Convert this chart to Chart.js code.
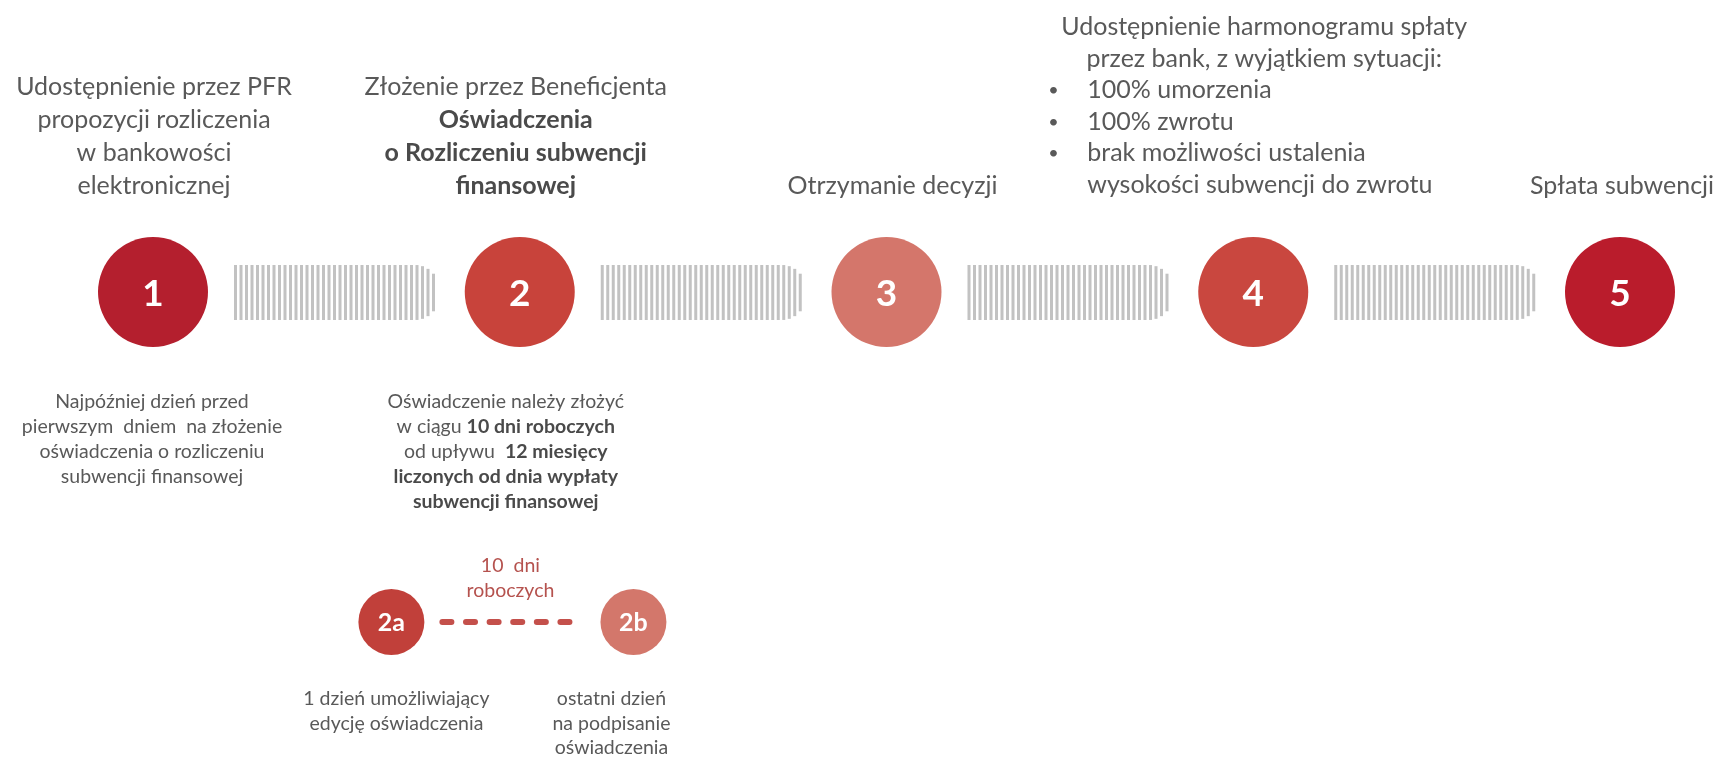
<!DOCTYPE html>
<html lang="pl">
<head>
<meta charset="utf-8">
<title>Rozliczenie subwencji finansowej</title>
<script src="https://cdn.jsdelivr.net/npm/chart.js@4.4.1/dist/chart.umd.min.js"></script>
<style>
  html, body { margin: 0; padding: 0; background: #fff; }
  #wrap { width: 1719px; height: 757px; }
</style>
</head>
<body>
<div id="wrap"><canvas id="flow" width="1719" height="757"></canvas></div>
<script>
// main steps of the process (x = step number on the timeline)
var stepNumbers = [1, 2, 3, 4, 5];
var stepLabels = ['1', '2', '3', '4', '5'];
var stepColors = ['#B41F2E', '#C8433B', '#D4766B', '#C9473F', '#BA1C2C'];

// sub-steps of step 2, placed between step 1 and step 3
var subSteps = [1.65, 2.31];
var subLabels = ['2a', '2b'];
var subColors = ['#C1403A', '#D3776B'];
var subLinkText = ['10  dni', 'roboczych'];

// texts above every step (** marks bold, "• " a bullet, two spaces a continued bullet)
var topTexts = [
  ['Udostępnienie przez PFR', 'propozycji rozliczenia', 'w bankowości', 'elektronicznej'],
  ['Złożenie przez Beneficjenta', '**Oświadczenia**', '**o Rozliczeniu subwencji**', '**finansowej**'],
  ['Otrzymanie decyzji'],
  ['Udostępnienie harmonogramu spłaty', 'przez bank, z wyjątkiem sytuacji:', '• 100% umorzenia', '• 100% zwrotu',
   '• brak możliwości ustalenia', '  wysokości subwencji do zwrotu'],
  ['Spłata subwencji']
];

// texts below the steps
var bottomTexts = [
  ['Najpóźniej dzień przed', 'pierwszym  dniem  na złożenie', 'oświadczenia o rozliczeniu', 'subwencji finansowej'],
  ['Oświadczenie należy złożyć', 'w ciągu **10 dni roboczych**', 'od upływu  **12 miesięcy**',
   '**liczonych od dnia wypłaty**', '**subwencji finansowej**'],
  [], [], []
];

// texts below the sub-steps
var subTexts = [
  ['1 dzień umożliwiający', 'edycję oświadczenia'],
  ['ostatni dzień', 'na podpisanie', 'oświadczenia']
];

var FONT = 'Lato, "Open Sans", sans-serif';

function segments(line) {
  return line.split('**').map(function(p, i) {
    return { t: p, b: i % 2 === 1 };
  }).filter(function(s) { return s.t.length > 0; });
}

function drawRich(ctx, line, x, y, align, size, color, boldColor) {
  var segs = segments(line);
  var total = 0;
  segs.forEach(function(s) {
    ctx.font = (s.b ? '700 ' : '400 ') + size + 'px ' + FONT;
    s.w = ctx.measureText(s.t).width;
    total += s.w;
  });
  var cx = align === 'center' ? x - total / 2 : x;
  segs.forEach(function(s) {
    ctx.font = (s.b ? '700 ' : '400 ') + size + 'px ' + FONT;
    ctx.fillStyle = s.b ? boldColor : color;
    ctx.textAlign = 'left';
    ctx.fillText(s.t, cx, y);
    cx += s.w;
  });
}

var flowDecor = {
  id: 'flowDecor',
  beforeDatasetsDraw: function(chart, args, opts) {
    var ctx = chart.ctx;
    var xs = chart.scales.x, ys = chart.scales.y;
    var rowY = ys.getPixelForValue(0);
    ctx.save();

    // striped arrows between the steps
    ctx.fillStyle = opts.arrowColor;
    for (var i = 0; i < stepNumbers.length - 1; i++) {
      var x0 = xs.getPixelForValue(stepNumbers[i]) + 81;
      var x1 = xs.getPixelForValue(stepNumbers[i + 1]) - 81;
      var half = 27.5, tip = 25;
      for (var x = x0; x < x1 - 2; x += 5.5) {
        var h = half;
        if (x > x1 - tip) {
          var t = (x - (x1 - tip)) / tip;
          h = Math.max(4, half * Math.sqrt(1 - t * t));
        }
        ctx.fillRect(x, rowY + 0.5 - h, 3, 2 * h);
      }
    }

    // dashed link between 2a and 2b
    var subY = ys.getPixelForValue(1);
    var a = xs.getPixelForValue(subSteps[0]) + 48;
    var b = xs.getPixelForValue(subSteps[1]) - 61;
    var n = 6, gap = 8.6;
    var dash = (b - a - (n - 1) * gap) / n;
    ctx.fillStyle = opts.dashColor;
    for (var k = 0; k < n; k++) {
      ctx.beginPath();
      ctx.roundRect(a + k * (dash + gap), subY - 3, dash, 6, 3);
      ctx.fill();
    }
    ctx.restore();
  },
  afterDatasetsDraw: function(chart, args, opts) {
    var ctx = chart.ctx;
    var xs = chart.scales.x, ys = chart.scales.y;
    var rowY = ys.getPixelForValue(0);
    var subY = ys.getPixelForValue(1);
    ctx.save();
    ctx.textBaseline = 'middle';

    // numbers inside the circles
    ctx.fillStyle = '#ffffff';
    ctx.textAlign = 'center';
    ctx.font = '700 37px ' + FONT;
    stepNumbers.forEach(function(s, i) {
      ctx.fillText(stepLabels[i], xs.getPixelForValue(s), rowY + 2);
    });
    ctx.font = '700 25px ' + FONT;
    subSteps.forEach(function(s, i) {
      ctx.fillText(subLabels[i], xs.getPixelForValue(s), subY + 1);
    });

    // texts above the steps, bottom aligned
    topTexts.forEach(function(lines, i) {
      var cx = xs.getPixelForValue(stepNumbers[i]) + opts.topShift[i];
      var lh = opts.topLine[i];
      var last = rowY + opts.topEnd[i];
      lines.forEach(function(line, j) {
        var y = last - (lines.length - 1 - j) * lh;
        if (line.indexOf('• ') === 0) {
          ctx.font = '400 18px ' + FONT;
          ctx.fillStyle = opts.textColor;
          ctx.textAlign = 'left';
          ctx.fillText('•', cx - 216, y);
          drawRich(ctx, line.slice(2), cx - 177, y, 'left', 25, opts.textColor, opts.boldColor);
        } else if (line.indexOf('  ') === 0) {
          drawRich(ctx, line.slice(2), cx - 177, y, 'left', 25, opts.textColor, opts.boldColor);
        } else {
          drawRich(ctx, line, cx, y, 'center', 25, opts.textColor, opts.boldColor);
        }
      });
    });

    // texts below the steps
    bottomTexts.forEach(function(lines, i) {
      var cx = xs.getPixelForValue(stepNumbers[i]) + opts.bottomShift[i];
      lines.forEach(function(line, j) {
        drawRich(ctx, line, cx, rowY + 110 + j * 25, 'center', 19.5, opts.textColor, opts.boldColor);
      });
    });

    // texts below the sub-steps
    subTexts.forEach(function(lines, i) {
      var cx = xs.getPixelForValue(subSteps[i]) + opts.subShift[i];
      lines.forEach(function(line, j) {
        drawRich(ctx, line, cx, subY + 77 + j * 24.5, 'center', 19.5, opts.textColor, opts.boldColor);
      });
    });

    // label of the dashed link
    var mid = (xs.getPixelForValue(subSteps[0]) + xs.getPixelForValue(subSteps[1])) / 2;
    subLinkText.forEach(function(line, j) {
      drawRich(ctx, line, mid - 2, subY - 56 + j * 25, 'center', 19.5, opts.linkColor, opts.linkColor);
    });
    ctx.restore();
  }
};

var ctx = document.getElementById('flow');
var flowChart = new Chart(ctx, {
  type: 'scatter',
  data: {
    datasets: [
      {
        label: 'Etapy',
        data: stepNumbers.map(function(s) { return { x: s, y: 0 }; }),
        pointRadius: 55,
        pointHoverRadius: 55,
        pointBackgroundColor: stepColors,
        pointBorderWidth: 0,
        clip: false
      },
      {
        label: 'Etapy 2a/2b',
        data: subSteps.map(function(s) { return { x: s, y: 1 }; }),
        pointRadius: 33,
        pointHoverRadius: 33,
        pointBackgroundColor: subColors,
        pointBorderWidth: 0,
        clip: false
      }
    ]
  },
  options: {
    responsive: false,
    animation: false,
    events: [],
    layout: { padding: 0, autoPadding: false },
    scales: {
      x: { type: 'linear', min: 0.58282, max: 5.26994, display: false },
      y: { type: 'linear', min: -0.88485, max: 1.40909, reverse: true, display: false }
    },
    plugins: {
      legend: { display: false },
      tooltip: { enabled: false },
      flowDecor: {
        arrowColor: '#C2C2C2',
        dashColor: '#C4504B',
        textColor: '#595959',
        boldColor: '#4A4A4A',
        linkColor: '#B5524E',
        topShift: [1, -4, 6, 11, 2],
        topLine: [33, 33, 33, 31.6, 33],
        topEnd: [-106, -106, -106, -107, -106],
        bottomShift: [-1, -14, 0, 0, 0],
        subShift: [5, -22]
      }
    }
  },
  plugins: [flowDecor]
});
</script>
</body>
</html>
